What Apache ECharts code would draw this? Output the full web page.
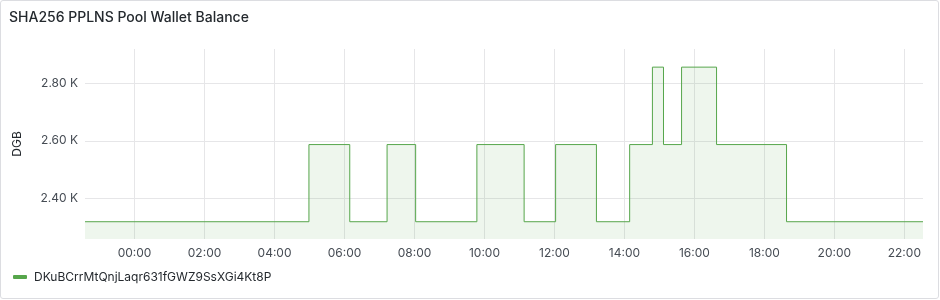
<!DOCTYPE html>
<html>
<head>
<meta charset="utf-8">
<script src="https://cdn.jsdelivr.net/npm/echarts@6/dist/echarts.min.js"></script>
<style>
  html, body { margin: 0; padding: 0; background: #fff; }
  #chart { position: absolute; left: 0; top: 0; width: 940px; height: 300px; }
  #frame { position: absolute; left: 0; top: 0; width: 937px; height: 297px;
           border: 1px solid #dcdde1; border-radius: 3px; pointer-events: none; }
</style>
</head>
<body>
<div id="chart"></div>
<div id="frame"></div>
<script>
// ---- data ----
const chartTitle = 'SHA256 PPLNS Pool Wallet Balance';
const seriesName = 'DKuBCrrMtQnjLaqr631fGWZ9SsXGi4Kt8P';
const yAxisName = 'DGB';
const rangeStart = '2024-01-01T22:35:00';
const rangeEnd = '2024-01-02T22:32:00';
const changeTimes = [
  '2024-01-01T22:35:00', '2024-01-02T04:59:00', '2024-01-02T06:09:00',
  '2024-01-02T07:13:00', '2024-01-02T08:02:00', '2024-01-02T09:47:00',
  '2024-01-02T11:08:00', '2024-01-02T12:02:00', '2024-01-02T13:12:00',
  '2024-01-02T14:09:00', '2024-01-02T14:48:00', '2024-01-02T15:07:00',
  '2024-01-02T15:38:00', '2024-01-02T16:38:00', '2024-01-02T18:38:00',
  '2024-01-02T22:32:00'
];
const balances = [
  2319, 2587, 2319,
  2587, 2319, 2587,
  2319, 2587, 2319,
  2587, 2856, 2587,
  2856, 2587, 2319,
  2319
];
const yTickValues = [2400, 2600, 2800];
const xTickLabels = ['00:00', '02:00', '04:00', '06:00', '08:00', '10:00',
                     '12:00', '14:00', '16:00', '18:00', '20:00', '22:00'];
const tickDay = '2024-01-02';
const yMin = 2259, yMax = 2919;

// ---- build ----
const ts = s => new Date(s).getTime();
const seriesData = changeTimes.map((t, i) => [ts(t), balances[i]]);
const xTickValues = xTickLabels.map(l => ts(tickDay + 'T' + l + ':00'));
const pad = n => (n < 10 ? '0' : '') + n;

const lineColor = '#56A64B';
const textColor = '#464c54';
const gridColor = '#e6e6e8';
const fontFamily = 'Inter, "Noto Sans", sans-serif';

const chart = echarts.init(document.getElementById('chart'), null, { renderer: 'canvas' });
chart.setOption({
  backgroundColor: 'transparent',
  animation: false,
  textStyle: { fontFamily: fontFamily },
  title: {
    text: chartTitle,
    left: 4, top: 6,
    textStyle: { fontSize: 14, fontWeight: 500, color: '#24292e', fontFamily: fontFamily }
  },
  legend: {
    left: 8, top: 266,
    icon: 'roundRect',
    itemWidth: 14, itemHeight: 4,
    itemGap: 10,
    textStyle: { fontSize: 12, color: '#24292e', fontFamily: fontFamily, padding: [0, 0, 0, 2] },
    data: [seriesName]
  },
  grid: { left: 85, right: 17, top: 49, bottom: 61, containLabel: false },
  xAxis: {
    type: 'value',
    min: ts(rangeStart),
    max: ts(rangeEnd),
    axisLine: { show: false },
    axisTick: { show: false, customValues: xTickValues },
    axisLabel: {
      customValues: xTickValues,
      color: textColor, fontSize: 12, margin: 8,
      formatter: v => { const d = new Date(v); return pad(d.getHours()) + ':' + pad(d.getMinutes()); }
    },
    splitLine: { show: true, lineStyle: { color: gridColor, width: 1 } }
  },
  yAxis: {
    type: 'value',
    min: yMin, max: yMax,
    name: yAxisName,
    nameLocation: 'middle',
    nameGap: 62,
    nameTextStyle: { color: '#24292e', fontSize: 12, fontFamily: fontFamily },
    axisLine: { show: false },
    axisTick: { show: false, customValues: yTickValues },
    axisLabel: {
      customValues: yTickValues,
      color: textColor, fontSize: 12, margin: 7,
      formatter: v => (v / 1000).toFixed(2) + ' K'
    },
    splitLine: { show: true, lineStyle: { color: gridColor, width: 1 } }
  },
  series: [{
    name: seriesName,
    type: 'line',
    step: 'end',
    data: seriesData,
    symbol: 'none',
    color: lineColor,
    lineStyle: { color: lineColor, width: 1 },
    areaStyle: { color: lineColor, opacity: 0.1 }
  }]
});
</script>
</body>
</html>
